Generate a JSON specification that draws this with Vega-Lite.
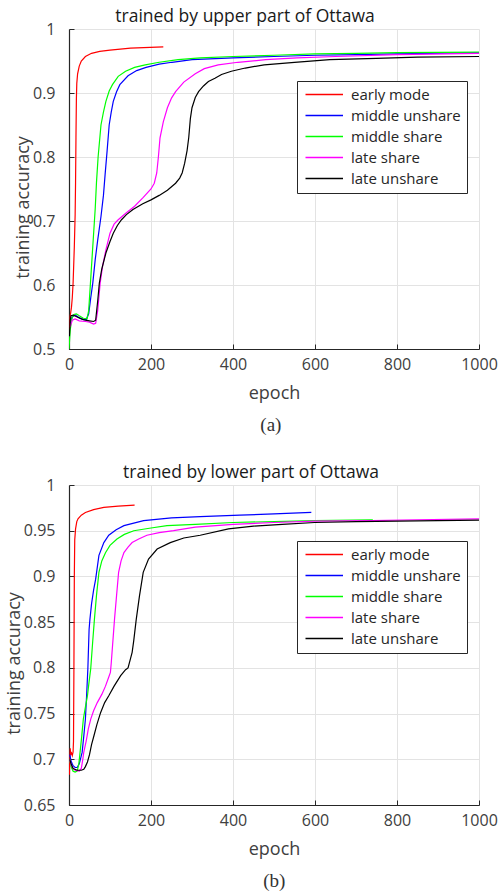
{
  "$schema": "https://vega.github.io/schema/vega-lite/v6.json",
  "padding": {"left": 5, "top": 7, "right": 5, "bottom": 2},
  "config": {
    "font": "Open Sans",
    "view": {"stroke": null},
    "axis": {
      "domainColor": "#262626",
      "domainWidth": 1.2,
      "tickColor": "#262626",
      "tickSize": -5,
      "gridColor": "#e3e3e3",
      "labelColor": "#404040",
      "titleColor": "#404040",
      "labelFontSize": 16,
      "titleFontSize": 18,
      "titleFontWeight": "normal"
    },
    "axisX": {"labelPadding": 12, "titlePadding": 12, "labelFlush": false},
    "axisY": {"labelPadding": 19, "titlePadding": 0, "titleY": 178},
    "title": {"fontSize": 17.5, "fontWeight": "normal", "color": "#1a1a1a", "font": "Open Sans"},
    "legend": {
      "orient": "none",
      "strokeColor": "#262626",
      "fillColor": "white",
      "padding": 6,
      "symbolType": "M-1,0H6.5",
      "symbolSize": 100,
      "symbolStrokeWidth": 1.3,
      "labelOffset": 33,
      "labelFontSize": 15,
      "labelColor": "#262626",
      "rowPadding": 5,
      "title": null
    }
  },
  "datasets": {
    "a": [
      {"s": "early mode", "e": 1, "v": 0.53}, {"s": "early mode", "e": 3, "v": 0.552}, {"s": "early mode", "e": 6, "v": 0.565}, {"s": "early mode", "e": 8, "v": 0.58}, {"s": "early mode", "e": 10, "v": 0.603}, {"s": "early mode", "e": 13, "v": 0.66}, {"s": "early mode", "e": 15, "v": 0.71}, {"s": "early mode", "e": 16, "v": 0.76}, {"s": "early mode", "e": 17, "v": 0.83}, {"s": "early mode", "e": 18, "v": 0.89}, {"s": "early mode", "e": 19, "v": 0.915}, {"s": "early mode", "e": 21, "v": 0.93}, {"s": "early mode", "e": 25, "v": 0.942}, {"s": "early mode", "e": 30, "v": 0.95}, {"s": "early mode", "e": 40, "v": 0.957}, {"s": "early mode", "e": 55, "v": 0.962}, {"s": "early mode", "e": 75, "v": 0.965}, {"s": "early mode", "e": 100, "v": 0.967}, {"s": "early mode", "e": 150, "v": 0.97}, {"s": "early mode", "e": 230, "v": 0.972},
      {"s": "middle unshare", "e": 3, "v": 0.54}, {"s": "middle unshare", "e": 8, "v": 0.55}, {"s": "middle unshare", "e": 15, "v": 0.553}, {"s": "middle unshare", "e": 25, "v": 0.549}, {"s": "middle unshare", "e": 35, "v": 0.546}, {"s": "middle unshare", "e": 42, "v": 0.546}, {"s": "middle unshare", "e": 48, "v": 0.555}, {"s": "middle unshare", "e": 53, "v": 0.58}, {"s": "middle unshare", "e": 58, "v": 0.603}, {"s": "middle unshare", "e": 64, "v": 0.64}, {"s": "middle unshare", "e": 70, "v": 0.67}, {"s": "middle unshare", "e": 78, "v": 0.707}, {"s": "middle unshare", "e": 84, "v": 0.74}, {"s": "middle unshare", "e": 88, "v": 0.772}, {"s": "middle unshare", "e": 93, "v": 0.81}, {"s": "middle unshare", "e": 98, "v": 0.85}, {"s": "middle unshare", "e": 103, "v": 0.87}, {"s": "middle unshare", "e": 108, "v": 0.887}, {"s": "middle unshare", "e": 116, "v": 0.902}, {"s": "middle unshare", "e": 124, "v": 0.913}, {"s": "middle unshare", "e": 144, "v": 0.927}, {"s": "middle unshare", "e": 165, "v": 0.935}, {"s": "middle unshare", "e": 188, "v": 0.94}, {"s": "middle unshare", "e": 220, "v": 0.945}, {"s": "middle unshare", "e": 251, "v": 0.948}, {"s": "middle unshare", "e": 300, "v": 0.952}, {"s": "middle unshare", "e": 400, "v": 0.955}, {"s": "middle unshare", "e": 500, "v": 0.957}, {"s": "middle unshare", "e": 600, "v": 0.959}, {"s": "middle unshare", "e": 700, "v": 0.96}, {"s": "middle unshare", "e": 800, "v": 0.961}, {"s": "middle unshare", "e": 1000, "v": 0.963},
      {"s": "middle share", "e": 0, "v": 0.5}, {"s": "middle share", "e": 3, "v": 0.53}, {"s": "middle share", "e": 7, "v": 0.548}, {"s": "middle share", "e": 12, "v": 0.554}, {"s": "middle share", "e": 18, "v": 0.555}, {"s": "middle share", "e": 25, "v": 0.552}, {"s": "middle share", "e": 35, "v": 0.548}, {"s": "middle share", "e": 44, "v": 0.547}, {"s": "middle share", "e": 48, "v": 0.56}, {"s": "middle share", "e": 52, "v": 0.6}, {"s": "middle share", "e": 56, "v": 0.64}, {"s": "middle share", "e": 60, "v": 0.68}, {"s": "middle share", "e": 64, "v": 0.72}, {"s": "middle share", "e": 67, "v": 0.76}, {"s": "middle share", "e": 71, "v": 0.8}, {"s": "middle share", "e": 78, "v": 0.85}, {"s": "middle share", "e": 84, "v": 0.87}, {"s": "middle share", "e": 90, "v": 0.887}, {"s": "middle share", "e": 98, "v": 0.903}, {"s": "middle share", "e": 106, "v": 0.913}, {"s": "middle share", "e": 120, "v": 0.926}, {"s": "middle share", "e": 138, "v": 0.934}, {"s": "middle share", "e": 160, "v": 0.94}, {"s": "middle share", "e": 186, "v": 0.944}, {"s": "middle share", "e": 220, "v": 0.948}, {"s": "middle share", "e": 266, "v": 0.952}, {"s": "middle share", "e": 320, "v": 0.955}, {"s": "middle share", "e": 400, "v": 0.957}, {"s": "middle share", "e": 500, "v": 0.959}, {"s": "middle share", "e": 600, "v": 0.961}, {"s": "middle share", "e": 700, "v": 0.962}, {"s": "middle share", "e": 800, "v": 0.963}, {"s": "middle share", "e": 1000, "v": 0.964},
      {"s": "late share", "e": 3, "v": 0.535}, {"s": "late share", "e": 8, "v": 0.545}, {"s": "late share", "e": 15, "v": 0.547}, {"s": "late share", "e": 25, "v": 0.544}, {"s": "late share", "e": 40, "v": 0.543}, {"s": "late share", "e": 50, "v": 0.542}, {"s": "late share", "e": 60, "v": 0.539}, {"s": "late share", "e": 65, "v": 0.54}, {"s": "late share", "e": 70, "v": 0.56}, {"s": "late share", "e": 76, "v": 0.603}, {"s": "late share", "e": 82, "v": 0.63}, {"s": "late share", "e": 90, "v": 0.655}, {"s": "late share", "e": 100, "v": 0.681}, {"s": "late share", "e": 110, "v": 0.695}, {"s": "late share", "e": 120, "v": 0.702}, {"s": "late share", "e": 140, "v": 0.713}, {"s": "late share", "e": 160, "v": 0.723}, {"s": "late share", "e": 180, "v": 0.736}, {"s": "late share", "e": 200, "v": 0.75}, {"s": "late share", "e": 208, "v": 0.759}, {"s": "late share", "e": 214, "v": 0.775}, {"s": "late share", "e": 218, "v": 0.8}, {"s": "late share", "e": 222, "v": 0.83}, {"s": "late share", "e": 230, "v": 0.855}, {"s": "late share", "e": 240, "v": 0.877}, {"s": "late share", "e": 250, "v": 0.892}, {"s": "late share", "e": 260, "v": 0.902}, {"s": "late share", "e": 280, "v": 0.917}, {"s": "late share", "e": 308, "v": 0.93}, {"s": "late share", "e": 330, "v": 0.938}, {"s": "late share", "e": 364, "v": 0.944}, {"s": "late share", "e": 412, "v": 0.948}, {"s": "late share", "e": 480, "v": 0.952}, {"s": "late share", "e": 556, "v": 0.955}, {"s": "late share", "e": 650, "v": 0.957}, {"s": "late share", "e": 800, "v": 0.96}, {"s": "late share", "e": 1000, "v": 0.962},
      {"s": "late unshare", "e": 1, "v": 0.52}, {"s": "late unshare", "e": 3, "v": 0.545}, {"s": "late unshare", "e": 5, "v": 0.552}, {"s": "late unshare", "e": 10, "v": 0.553}, {"s": "late unshare", "e": 20, "v": 0.55}, {"s": "late unshare", "e": 30, "v": 0.547}, {"s": "late unshare", "e": 40, "v": 0.545}, {"s": "late unshare", "e": 50, "v": 0.544}, {"s": "late unshare", "e": 60, "v": 0.543}, {"s": "late unshare", "e": 65, "v": 0.545}, {"s": "late unshare", "e": 70, "v": 0.575}, {"s": "late unshare", "e": 74, "v": 0.603}, {"s": "late unshare", "e": 80, "v": 0.625}, {"s": "late unshare", "e": 90, "v": 0.65}, {"s": "late unshare", "e": 100, "v": 0.668}, {"s": "late unshare", "e": 108, "v": 0.681}, {"s": "late unshare", "e": 118, "v": 0.693}, {"s": "late unshare", "e": 128, "v": 0.702}, {"s": "late unshare", "e": 140, "v": 0.71}, {"s": "late unshare", "e": 156, "v": 0.718}, {"s": "late unshare", "e": 180, "v": 0.727}, {"s": "late unshare", "e": 200, "v": 0.733}, {"s": "late unshare", "e": 220, "v": 0.74}, {"s": "late unshare", "e": 240, "v": 0.748}, {"s": "late unshare", "e": 260, "v": 0.759}, {"s": "late unshare", "e": 270, "v": 0.767}, {"s": "late unshare", "e": 276, "v": 0.775}, {"s": "late unshare", "e": 282, "v": 0.79}, {"s": "late unshare", "e": 288, "v": 0.81}, {"s": "late unshare", "e": 292, "v": 0.83}, {"s": "late unshare", "e": 296, "v": 0.86}, {"s": "late unshare", "e": 300, "v": 0.877}, {"s": "late unshare", "e": 308, "v": 0.893}, {"s": "late unshare", "e": 316, "v": 0.902}, {"s": "late unshare", "e": 328, "v": 0.911}, {"s": "late unshare", "e": 340, "v": 0.918}, {"s": "late unshare", "e": 356, "v": 0.923}, {"s": "late unshare", "e": 372, "v": 0.929}, {"s": "late unshare", "e": 396, "v": 0.934}, {"s": "late unshare", "e": 430, "v": 0.939}, {"s": "late unshare", "e": 476, "v": 0.944}, {"s": "late unshare", "e": 550, "v": 0.948}, {"s": "late unshare", "e": 636, "v": 0.952}, {"s": "late unshare", "e": 750, "v": 0.954}, {"s": "late unshare", "e": 850, "v": 0.956}, {"s": "late unshare", "e": 1000, "v": 0.957}
    ],
    "b": [
      {"s": "early mode", "e": 1, "v": 0.683}, {"s": "early mode", "e": 2, "v": 0.7}, {"s": "early mode", "e": 3, "v": 0.712}, {"s": "early mode", "e": 4, "v": 0.705}, {"s": "early mode", "e": 6, "v": 0.707}, {"s": "early mode", "e": 8, "v": 0.704}, {"s": "early mode", "e": 10, "v": 0.708}, {"s": "early mode", "e": 11, "v": 0.72}, {"s": "early mode", "e": 12, "v": 0.8}, {"s": "early mode", "e": 13, "v": 0.9}, {"s": "early mode", "e": 14, "v": 0.94}, {"s": "early mode", "e": 16, "v": 0.952}, {"s": "early mode", "e": 19, "v": 0.96}, {"s": "early mode", "e": 22, "v": 0.963}, {"s": "early mode", "e": 30, "v": 0.967}, {"s": "early mode", "e": 40, "v": 0.97}, {"s": "early mode", "e": 60, "v": 0.973}, {"s": "early mode", "e": 85, "v": 0.9756}, {"s": "early mode", "e": 120, "v": 0.977}, {"s": "early mode", "e": 160, "v": 0.978},
      {"s": "middle unshare", "e": 2, "v": 0.705}, {"s": "middle unshare", "e": 5, "v": 0.698}, {"s": "middle unshare", "e": 10, "v": 0.693}, {"s": "middle unshare", "e": 15, "v": 0.691}, {"s": "middle unshare", "e": 20, "v": 0.691}, {"s": "middle unshare", "e": 25, "v": 0.695}, {"s": "middle unshare", "e": 29, "v": 0.702}, {"s": "middle unshare", "e": 32, "v": 0.7075}, {"s": "middle unshare", "e": 36, "v": 0.725}, {"s": "middle unshare", "e": 40, "v": 0.744}, {"s": "middle unshare", "e": 43, "v": 0.77}, {"s": "middle unshare", "e": 46, "v": 0.799}, {"s": "middle unshare", "e": 49, "v": 0.842}, {"s": "middle unshare", "e": 51, "v": 0.853}, {"s": "middle unshare", "e": 55, "v": 0.87}, {"s": "middle unshare", "e": 60, "v": 0.885}, {"s": "middle unshare", "e": 65, "v": 0.897}, {"s": "middle unshare", "e": 73, "v": 0.923}, {"s": "middle unshare", "e": 85, "v": 0.937}, {"s": "middle unshare", "e": 97, "v": 0.945}, {"s": "middle unshare", "e": 115, "v": 0.951}, {"s": "middle unshare", "e": 134, "v": 0.9555}, {"s": "middle unshare", "e": 182, "v": 0.961}, {"s": "middle unshare", "e": 250, "v": 0.964}, {"s": "middle unshare", "e": 320, "v": 0.9655}, {"s": "middle unshare", "e": 417, "v": 0.967}, {"s": "middle unshare", "e": 500, "v": 0.9685}, {"s": "middle unshare", "e": 591, "v": 0.97},
      {"s": "middle share", "e": 2, "v": 0.7}, {"s": "middle share", "e": 5, "v": 0.692}, {"s": "middle share", "e": 10, "v": 0.687}, {"s": "middle share", "e": 15, "v": 0.686}, {"s": "middle share", "e": 20, "v": 0.687}, {"s": "middle share", "e": 24, "v": 0.695}, {"s": "middle share", "e": 27, "v": 0.7075}, {"s": "middle share", "e": 31, "v": 0.725}, {"s": "middle share", "e": 35, "v": 0.744}, {"s": "middle share", "e": 40, "v": 0.757}, {"s": "middle share", "e": 45, "v": 0.7695}, {"s": "middle share", "e": 49, "v": 0.785}, {"s": "middle share", "e": 53, "v": 0.799}, {"s": "middle share", "e": 58, "v": 0.83}, {"s": "middle share", "e": 62, "v": 0.853}, {"s": "middle share", "e": 67, "v": 0.879}, {"s": "middle share", "e": 73, "v": 0.9045}, {"s": "middle share", "e": 80, "v": 0.917}, {"s": "middle share", "e": 89, "v": 0.926}, {"s": "middle share", "e": 100, "v": 0.934}, {"s": "middle share", "e": 117, "v": 0.941}, {"s": "middle share", "e": 135, "v": 0.946}, {"s": "middle share", "e": 158, "v": 0.95}, {"s": "middle share", "e": 200, "v": 0.953}, {"s": "middle share", "e": 239, "v": 0.9555}, {"s": "middle share", "e": 308, "v": 0.957}, {"s": "middle share", "e": 400, "v": 0.959}, {"s": "middle share", "e": 500, "v": 0.96}, {"s": "middle share", "e": 600, "v": 0.961}, {"s": "middle share", "e": 741, "v": 0.962},
      {"s": "late share", "e": 2, "v": 0.7}, {"s": "late share", "e": 5, "v": 0.694}, {"s": "late share", "e": 10, "v": 0.69}, {"s": "late share", "e": 15, "v": 0.688}, {"s": "late share", "e": 25, "v": 0.687}, {"s": "late share", "e": 30, "v": 0.69}, {"s": "late share", "e": 33, "v": 0.698}, {"s": "late share", "e": 36, "v": 0.7075}, {"s": "late share", "e": 42, "v": 0.72}, {"s": "late share", "e": 47, "v": 0.733}, {"s": "late share", "e": 53, "v": 0.744}, {"s": "late share", "e": 60, "v": 0.753}, {"s": "late share", "e": 69, "v": 0.762}, {"s": "late share", "e": 80, "v": 0.771}, {"s": "late share", "e": 89, "v": 0.78}, {"s": "late share", "e": 97, "v": 0.79}, {"s": "late share", "e": 101, "v": 0.795}, {"s": "late share", "e": 103, "v": 0.805}, {"s": "late share", "e": 105, "v": 0.817}, {"s": "late share", "e": 108, "v": 0.835}, {"s": "late share", "e": 111, "v": 0.853}, {"s": "late share", "e": 116, "v": 0.879}, {"s": "late share", "e": 121, "v": 0.9045}, {"s": "late share", "e": 127, "v": 0.917}, {"s": "late share", "e": 134, "v": 0.926}, {"s": "late share", "e": 144, "v": 0.932}, {"s": "late share", "e": 154, "v": 0.937}, {"s": "late share", "e": 170, "v": 0.941}, {"s": "late share", "e": 190, "v": 0.945}, {"s": "late share", "e": 220, "v": 0.948}, {"s": "late share", "e": 255, "v": 0.95}, {"s": "late share", "e": 308, "v": 0.954}, {"s": "late share", "e": 400, "v": 0.957}, {"s": "late share", "e": 500, "v": 0.959}, {"s": "late share", "e": 600, "v": 0.9605}, {"s": "late share", "e": 740, "v": 0.961}, {"s": "late share", "e": 850, "v": 0.962}, {"s": "late share", "e": 1000, "v": 0.963},
      {"s": "late unshare", "e": 2, "v": 0.7}, {"s": "late unshare", "e": 5, "v": 0.695}, {"s": "late unshare", "e": 10, "v": 0.69}, {"s": "late unshare", "e": 20, "v": 0.688}, {"s": "late unshare", "e": 30, "v": 0.688}, {"s": "late unshare", "e": 36, "v": 0.689}, {"s": "late unshare", "e": 40, "v": 0.692}, {"s": "late unshare", "e": 45, "v": 0.697}, {"s": "late unshare", "e": 50, "v": 0.705}, {"s": "late unshare", "e": 55, "v": 0.716}, {"s": "late unshare", "e": 61, "v": 0.726}, {"s": "late unshare", "e": 68, "v": 0.738}, {"s": "late unshare", "e": 77, "v": 0.751}, {"s": "late unshare", "e": 87, "v": 0.762}, {"s": "late unshare", "e": 97, "v": 0.7695}, {"s": "late unshare", "e": 110, "v": 0.78}, {"s": "late unshare", "e": 126, "v": 0.7915}, {"s": "late unshare", "e": 138, "v": 0.798}, {"s": "late unshare", "e": 144, "v": 0.8}, {"s": "late unshare", "e": 150, "v": 0.81}, {"s": "late unshare", "e": 154, "v": 0.817}, {"s": "late unshare", "e": 158, "v": 0.83}, {"s": "late unshare", "e": 164, "v": 0.853}, {"s": "late unshare", "e": 172, "v": 0.879}, {"s": "late unshare", "e": 181, "v": 0.9045}, {"s": "late unshare", "e": 194, "v": 0.919}, {"s": "late unshare", "e": 215, "v": 0.93}, {"s": "late unshare", "e": 247, "v": 0.937}, {"s": "late unshare", "e": 280, "v": 0.942}, {"s": "late unshare", "e": 320, "v": 0.945}, {"s": "late unshare", "e": 389, "v": 0.952}, {"s": "late unshare", "e": 450, "v": 0.955}, {"s": "late unshare", "e": 520, "v": 0.957}, {"s": "late unshare", "e": 599, "v": 0.959}, {"s": "late unshare", "e": 700, "v": 0.96}, {"s": "late unshare", "e": 800, "v": 0.9605}, {"s": "late unshare", "e": 1000, "v": 0.9615}
    ]
  },
  "spacing": 28,
  "vconcat": [
    {
      "title": {"text": "(a)", "orient": "bottom", "anchor": "middle", "dx": 15, "font": "Liberation Serif", "fontSize": 19, "color": "#333333", "fontWeight": "normal", "offset": 14},
      "vconcat": [
        {
          "title": {"text": "trained by upper part of Ottawa", "dx": -29, "offset": -4},
          "width": 410,
          "height": 320,
          "data": {"name": "a"},
          "mark": {"type": "line", "strokeWidth": 1.2, "clip": true},
          "encoding": {
            "x": {"field": "e", "type": "quantitative", "scale": {"domain": [0, 1000], "nice": false}, "axis": {"values": [0, 200, 400, 600, 800, 1000], "format": "d", "title": "epoch"}},
            "y": {"field": "v", "type": "quantitative", "scale": {"domain": [0.5, 1], "zero": false, "nice": false}, "axis": {"values": [0.5, 0.6, 0.7, 0.8, 0.9, 1], "format": "~g", "title": "training accuracy"}},
            "color": {
              "field": "s", "type": "nominal",
              "scale": {"domain": ["early mode", "middle unshare", "middle share", "late share", "late unshare"], "range": ["#ff0000", "#0000ff", "#00ff00", "#ff00ff", "#000000"]},
              "legend": {"legendX": 228, "legendY": 52}
            }
          }
        }
      ]
    },
    {
      "title": {"text": "(b)", "orient": "bottom", "anchor": "middle", "dx": 23, "font": "Liberation Serif", "fontSize": 19, "color": "#333333", "fontWeight": "normal", "offset": 14},
      "vconcat": [
        {
          "title": {"text": "trained by lower part of Ottawa", "dx": -23, "offset": -4},
          "width": 410,
          "height": 320,
          "data": {"name": "b"},
          "mark": {"type": "line", "strokeWidth": 1.2, "clip": true},
          "encoding": {
            "x": {"field": "e", "type": "quantitative", "scale": {"domain": [0, 1000], "nice": false}, "axis": {"values": [0, 200, 400, 600, 800, 1000], "format": "d", "title": "epoch"}},
            "y": {"field": "v", "type": "quantitative", "scale": {"domain": [0.65, 1], "zero": false, "nice": false}, "axis": {"values": [0.65, 0.7, 0.75, 0.8, 0.85, 0.9, 0.95, 1], "format": "~g", "title": "training accuracy"}},
            "color": {
              "field": "s", "type": "nominal",
              "scale": {"domain": ["early mode", "middle unshare", "middle share", "late share", "late unshare"], "range": ["#ff0000", "#0000ff", "#00ff00", "#ff00ff", "#000000"]},
              "legend": {"legendX": 228, "legendY": 56}
            }
          }
        }
      ]
    }
  ],
  "resolve": {"scale": {"color": "independent"}}
}
